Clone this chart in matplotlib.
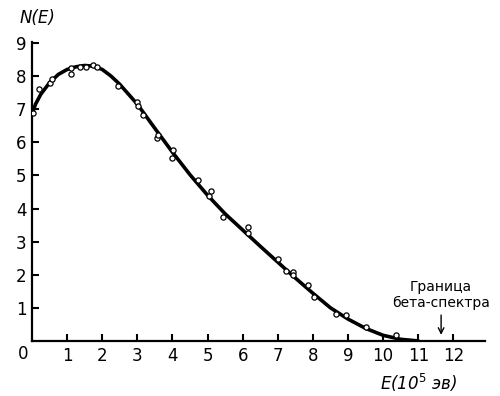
"""Beta spectrum N(E) with measured points and smooth curve."""
import matplotlib
matplotlib.use("Agg")
import matplotlib.pyplot as plt

# measured points (E in 10^5 eV, N(E))
pts_e = [0.03, 0.2, 0.5, 0.57, 1.1, 1.1, 1.37, 1.54, 1.73, 1.85, 2.45,
         2.99, 3.01, 3.17, 3.55, 3.6, 3.99, 4.02, 4.74, 5.05, 5.1, 5.43,
         6.14, 6.15, 7.0, 7.23, 7.43, 7.43, 7.86, 8.03, 8.66, 8.94, 9.51,
         10.37]
pts_n = [6.89, 7.6, 7.8, 7.9, 8.25, 8.05, 8.28, 8.26, 8.33, 8.27, 7.7,
         7.23, 7.1, 6.83, 6.13, 6.22, 5.52, 5.77, 4.86, 4.38, 4.53, 3.74,
         3.45, 3.26, 2.47, 2.1, 2.08, 1.99, 1.69, 1.34, 0.82, 0.79, 0.42,
         0.18]

# smooth curve
curve_e = [0, 0.1, 0.25, 0.5, 0.75, 1.0, 1.25, 1.5, 1.75, 2.0, 2.25, 2.5,
           2.75, 3.0, 3.5, 4.0, 4.5, 5.0, 5.5, 6.0, 6.5, 7.0, 7.5, 8.0,
           8.5, 9.0, 9.5, 10.0, 10.5, 11.0]
curve_n = [6.85, 7.15, 7.45, 7.8, 8.05, 8.2, 8.28, 8.32, 8.3, 8.2, 8.0,
           7.75, 7.45, 7.15, 6.42, 5.7, 5.02, 4.4, 3.84, 3.35, 2.86, 2.38,
           1.9, 1.44, 1.0, 0.66, 0.38, 0.17, 0.05, 0.0]

x_ticks = list(range(1, 13))
y_ticks = list(range(1, 10))
limit_e = 11.65

FONT = ["DejaVu Sans"]

fig = plt.figure(figsize=(5.0, 3.96), dpi=100)
ax = fig.add_axes([0.064, 0.139, 0.906, 0.755])

ax.plot(curve_e, curve_n, color="black", lw=2.6, solid_capstyle="round",
        zorder=2)
ax.scatter(pts_e, pts_n, s=14, facecolor="white", edgecolor="black",
           linewidth=0.9, zorder=3)

ax.set_xlim(0, 12.9)
ax.set_ylim(0, 9.03)
for s in ("top", "right"):
    ax.spines[s].set_visible(False)
for s in ("left", "bottom"):
    ax.spines[s].set_linewidth(1.6)

ax.set_xticks(x_ticks, [str(v) for v in x_ticks])
ax.set_yticks(y_ticks, [str(v) for v in y_ticks])
ax.tick_params(direction="in", length=5, width=1.5, labelsize=12, pad=4)
for lab in ax.get_xticklabels() + ax.get_yticklabels():
    lab.set_family(FONT)

ax.text(-0.008, -0.012, "0", transform=ax.transAxes, ha="right", va="top",
        fontsize=12, family=FONT)
fig.text(0.04, 0.955, "N(E)", style="italic", fontsize=12, family=FONT,
         va="center", ha="left")
fig.text(0.76, 0.033, r"E(10$^5$ эв)", style="italic", fontsize=12,
         family=FONT, va="center", ha="left")

ax.annotate("Граница\nбета-спектра", xy=(limit_e, 0.1),
            xytext=(limit_e, 0.95), ha="center", va="bottom",
            fontsize=10, family=FONT, linespacing=1.15,
            arrowprops=dict(arrowstyle="->", color="black", lw=1.0))

fig.savefig("out.png", dpi=100)
